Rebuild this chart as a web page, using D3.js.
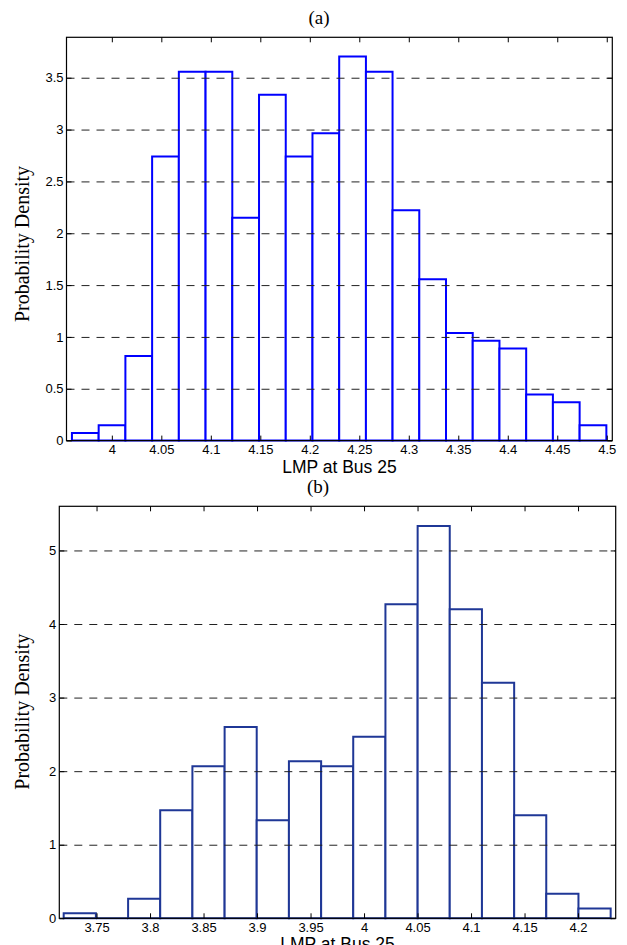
<!DOCTYPE html>
<html>
<head>
<meta charset="utf-8">
<script src="https://cdn.jsdelivr.net/npm/d3@7/dist/d3.min.js"></script>
<style>
body{margin:0;background:#fff;}
svg{display:block;}
.tick text{font-family:"Liberation Sans",Arial,sans-serif;font-size:13px;fill:#000;}
</style>
</head>
<body>
<svg id="chart" width="627" height="945"></svg>
<script>
// panel (a)
var edgesA = [3.9597,3.9867,4.0137,4.0407,4.0677,4.0947,4.1217,4.1487,4.1757,4.2027,4.2297,4.2567,4.2836,4.3106,4.3376,4.3646,4.3916,4.4186,4.4456,4.4726,4.4996];
var densityA = [0.074,0.148,0.815,2.74,3.557,3.557,2.149,3.335,2.74,2.964,3.705,3.557,2.223,1.556,1.037,0.963,0.889,0.445,0.37,0.148];
var xTicksA = [4,4.05,4.1,4.15,4.2,4.25,4.3,4.35,4.4,4.45,4.5];
var yTicksA = [0,0.5,1,1.5,2,2.5,3,3.5];

// panel (b)
var edgesB = [3.7193,3.7494,3.7795,3.8095,3.8396,3.8697,3.8997,3.9298,3.9599,3.9899,4.0200,4.0501,4.0801,4.1102,4.1403,4.1703,4.2004,4.2305];
var densityB = [0.067,0,0.267,1.467,2.067,2.6,1.333,2.133,2.067,2.467,4.267,5.333,4.2,3.2,1.4,0.333,0.133];
var xTicksB = [3.75,3.8,3.85,3.9,3.95,4,4.05,4.1,4.15,4.2];
var yTicksB = [0,1,2,3,4,5];

var svg = d3.select("#chart");

function drawHist(p)
{
	var x = d3.scaleLinear().domain(p.xDomain).range([p.left,p.right]);
	var y = d3.scaleLinear().domain(p.yDomain).range([p.bottom,p.top]);
	var w = p.right-p.left;
	var g = svg.append("g");

	var bins = p.density.map(function(d,i){ return {x0:p.edges[i],x1:p.edges[i+1],h:d}; });
	g.append("g").selectAll("path").data(bins).enter().append("path")
		.attr("d",function(b){ return "M"+x(b.x0)+","+y(0)+"V"+y(b.h)+"H"+x(b.x1)+"V"+y(0)+"Z"; })
		.attr("fill","#fff")
		.attr("stroke",p.color)
		.attr("stroke-width",2);

	// dashed grid on top of bars
	var grid = g.append("g").attr("transform","translate("+p.left+",0)")
		.call(d3.axisLeft(y).tickValues(p.yTicks.filter(function(v){ return v>0; })).tickSize(-w).tickFormat(""));
	grid.select(".domain").remove();
	grid.selectAll("line").attr("stroke","#222").attr("stroke-dasharray","8,7");

	var ax = g.append("g").attr("transform","translate(0,"+p.bottom+")")
		.call(d3.axisBottom(x).tickValues(p.xTicks).tickSize(-5).tickPadding(4).tickFormat(function(d){ return String(d); }));
	var axT = g.append("g").attr("transform","translate(0,"+p.top+")")
		.call(d3.axisTop(x).tickValues(p.xTicks).tickSize(-5).tickFormat(""));
	var ay = g.append("g").attr("transform","translate("+p.left+",0)")
		.call(d3.axisLeft(y).tickValues(p.yTicks).tickSize(-5).tickPadding(3).tickFormat(function(d){ return String(d); }));
	var ayR = g.append("g").attr("transform","translate("+p.right+",0)")
		.call(d3.axisRight(y).tickValues(p.yTicks).tickSize(-5).tickFormat(""));
	[ax,axT,ay,ayR].forEach(function(a){ a.select(".domain").remove(); });

	g.append("rect")
		.attr("x",p.left).attr("y",p.top)
		.attr("width",w).attr("height",p.bottom-p.top)
		.attr("fill","none").attr("stroke","#000").attr("stroke-width",1.2);

	g.append("text")
		.attr("x",p.titleX).attr("y",p.titleY)
		.attr("text-anchor","middle")
		.style("font-family","'Liberation Serif','Times New Roman',serif").style("font-size","19px")
		.text(p.title);
	g.append("text")
		.attr("x",(p.left+p.right)/2).attr("y",p.bottom+32)
		.attr("text-anchor","middle")
		.style("font-family","'Liberation Sans',Arial,sans-serif").style("font-size","17.5px")
		.text("LMP at Bus 25");
	g.append("text")
		.attr("transform","translate(29,"+p.yLabelY+") rotate(-90)")
		.attr("text-anchor","middle")
		.style("font-family","'Liberation Serif','Times New Roman',serif").style("font-size","20px")
		.text("Probability Density");
}

drawHist({edges:edgesA,density:densityA,xTicks:xTicksA,yTicks:yTicksA,
	xDomain:[3.9542,4.5056],yDomain:[0,3.89],
	left:66.5,right:612.3,top:37.3,bottom:440.6,
	color:"#0000ff",title:"(a)",titleX:319,titleY:24,yLabelY:244});

drawHist({edges:edgesB,density:densityB,xTicks:xTicksB,yTicks:yTicksB,
	xDomain:[3.7152,4.2352],yDomain:[0,5.6],
	left:59.3,right:615.7,top:506.3,bottom:918.3,
	color:"#1f3796",title:"(b)",titleX:318,titleY:492.5,yLabelY:711.7});
</script>
</body>
</html>
